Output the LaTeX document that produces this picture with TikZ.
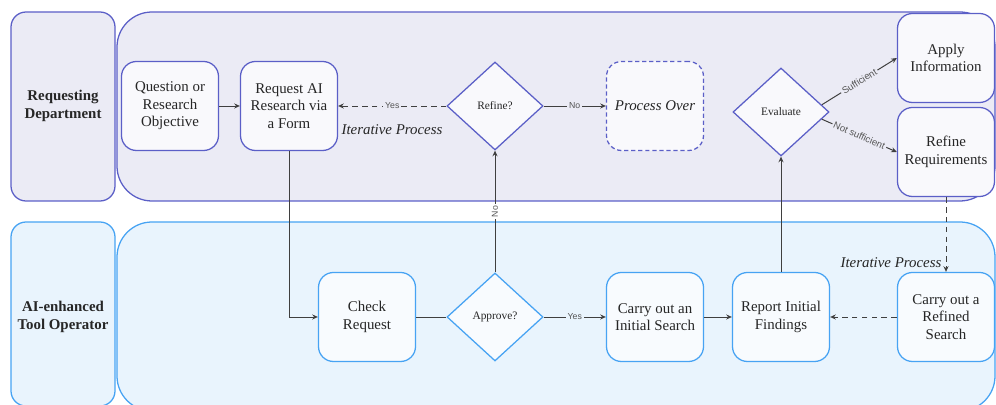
\documentclass[tikz,border=0pt]{standalone}
\usepackage{fontspec}
\setmainfont{Liberation Serif}
\newfontfamily\edgefont{Liberation Sans}
\usepackage{tikz}
\usetikzlibrary{shapes.geometric,arrows.meta}
\definecolor{reqline}{HTML}{5B5FC7}
\definecolor{reqfill}{HTML}{EBEBF5}
\definecolor{reqnode}{HTML}{F9F9FC}
\definecolor{opline}{HTML}{47A3F3}
\definecolor{opfill}{HTML}{E9F4FD}
\definecolor{opnode}{HTML}{F8FBFE}
\definecolor{flowgray}{HTML}{3F3F3F}
\definecolor{labelgray}{HTML}{555555}

\begin{document}
\begin{tikzpicture}[x=0.025cm,y=-0.025cm,
    font=\fontsize{10.6}{12.4}\selectfont,
    lanebox/.style={line width=0.9pt,rounded corners=0.375cm},
    lanetitle/.style={align=center,font=\fontsize{10.6}{12.4}\selectfont\bfseries,text=black!85},
    stepbox/.style={draw,line width=0.9pt,rounded corners=0.375cm,minimum width=2.425cm,minimum height=2.225cm,align=center,inner sep=1pt,text=black!85},
    reqbox/.style={stepbox,draw=reqline,fill=reqnode},
    opbox/.style={stepbox,draw=opline,fill=opnode},
    choice/.style={draw,diamond,line width=0.9pt,minimum width=2.4cm,minimum height=2.2cm,inner sep=0pt,font=\fontsize{8.1}{9.5}\selectfont,text=black!85},
    flow/.style={draw=flowgray,line width=0.7pt,-{Stealth[length=4pt,width=3.6pt]}},
    plainflow/.style={draw=flowgray,line width=0.7pt},
    dashflow/.style={flow,dash pattern=on 4pt off 3pt},
    edgelabel/.style={font=\edgefont\fontsize{6.2}{7}\selectfont,text=labelgray,inner sep=1.2pt},
    slopelabel/.style={edgelabel,sloped,font=\edgefont\fontsize{6.8}{7.5}\selectfont},
    itprocess/.style={font=\fontsize{10.6}{12.4}\selectfont\itshape,text=black!85}]
    \clip (0,0) rectangle (996,405);

    % swimlanes
    \draw[lanebox,draw=reqline,fill=reqfill] (11,12) rectangle (115,201);
    \draw[lanebox,draw=reqline,fill=reqfill,rounded corners=0.875cm] (117,12) rectangle (995,201);
    \draw[lanebox,draw=opline,fill=opfill] (11,222) rectangle (115,406);
    \draw[lanebox,draw=opline,fill=opfill,rounded corners=0.875cm] (117,222) rectangle (995,411);
    \node[lanetitle] (reqlane) at (63,106) {Requesting\\Department};
    \node[lanetitle] (oplane) at (63,317) {AI-enhanced\\Tool Operator};

    % requesting department
    \node[reqbox] (question) at (170,106) {Question or\\Research\\Objective};
    \node[reqbox] (request) at (289,106) {Request AI\\Research via\\a Form};
    \node[choice,draw=reqline,fill=reqnode] (refine) at (495,106) {Refine?};
    \node[reqbox,dashed,dash pattern=on 3pt off 2pt,font=\fontsize{10.6}{12.4}\selectfont\itshape] (over) at (655,106) {Process Over};
    \node[choice,draw=reqline,fill=reqnode] (evaluate) at (781,112) {Evaluate};
    \node[reqbox] (apply) at (946,58) {Apply\\Information};
    \node[reqbox] (refinereq) at (946,152) {Refine\\Requirements};

    % tool operator
    \node[opbox] (check) at (367,317) {Check\\Request};
    \node[choice,draw=opline,fill=opnode] (approve) at (495,317) {Approve?};
    \node[opbox] (initial) at (655,317) {Carry out an\\Initial Search};
    \node[opbox] (report) at (781,317) {Report Initial\\Findings};
    \node[opbox] (refined) at (946,317) {Carry out a\\Refined\\Search};

    \node[itprocess] (iterone) at (392,130) {Iterative Process};
    \node[itprocess] (itertwo) at (891,263) {Iterative Process};

    % connectors
    \draw[flow] (question) -- (request);
    \draw[dashflow] (refine) -- node[edgelabel,fill=reqfill] {Yes} (request);
    \draw[flow] (refine) -- node[edgelabel,fill=reqfill] {No} (over);
    \draw[flow] (request) |- (check);
    \draw[plainflow] (check) -- (approve);
    \draw[flow] (approve) -- node[edgelabel,fill=white,sloped] {No} (refine);
    \draw[flow] (approve) -- node[edgelabel,fill=opfill] {Yes} (initial);
    \draw[flow] (initial) -- (report);
    \draw[flow] (report) -- (evaluate);
    \draw[flow] (evaluate.10) -- node[slopelabel,fill=reqfill] {Sufficient} (apply.west);
    \draw[flow] (evaluate.-10) -- node[slopelabel,fill=reqfill] {Not sufficient} (refinereq.west);
    \draw[dashflow] (refinereq) -- (refined);
    \draw[dashflow] (refined) -- (report);
\end{tikzpicture}
\end{document}
